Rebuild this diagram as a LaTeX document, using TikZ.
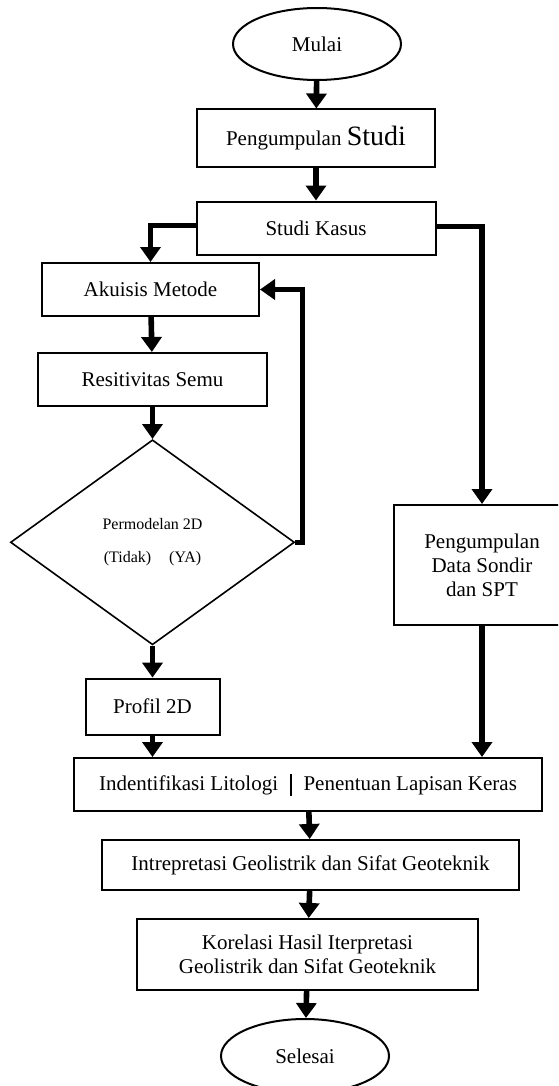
\documentclass[tikz,border=0pt]{standalone}
\usepackage{fontspec}
\setmainfont{Liberation Serif}
\usetikzlibrary{shapes.geometric,arrows.meta,positioning}
\tikzset{
  proses/.style = {rectangle, draw, line width=1pt, inner sep=0pt, align=center,
    font=\fontsize{10.5}{12}\selectfont},
  terminal/.style = {ellipse, draw, line width=1pt, inner sep=0pt, minimum width=84pt,
    minimum height=36pt, font=\fontsize{10.5}{12}\selectfont},
  keputusan/.style = {diamond, draw, line width=0.8pt, inner sep=0pt, align=center,
    minimum width=142pt, minimum height=102.5pt, font=\fontsize{8}{16.5}\selectfont},
  panah/.style = {line width=2.8pt, -{Triangle[width=10pt,length=7.5pt]}}
}

\begin{document}
\begin{tikzpicture}[x=0.5pt, y=-0.5pt]
\useasboundingbox (0,0) rectangle (558,1086);
\clip (0,0) rectangle (558,1086);

\node[terminal] (mulai) at (317,44) {Mulai};
\node[proses, below=13.75pt of mulai, minimum width=119pt, minimum height=28.5pt, xshift=-0.5pt]
  (kumpul) {Pengumpulan {\fontsize{14}{16}\selectfont Studi}};
\node[proses, below=16.5pt of kumpul, minimum width=119.5pt, minimum height=26.5pt] (kasus) {Studi Kasus};

% cabang kiri
\node[proses, minimum width=108.5pt, minimum height=26.5pt] (akuisis) at (150.5,289.5) {Akuisis Metode};
\node[proses, below=17.5pt of akuisis, minimum width=114.5pt, minimum height=26.5pt, xshift=1pt]
  (resit) {Resitivitas Semu};
\node[keputusan, below=16pt of resit] (model) {Permodelan 2D\\(Tidak)\hspace{9pt}(YA)};
\node[proses, below=16pt of model, minimum width=67pt, minimum height=28pt] (profil) {Profil 2D};

% cabang kanan
\node[proses, minimum width=88pt, minimum height=60pt] (data) at (482,565)
  {Pengumpulan\\Data Sondir\\dan SPT};

% bagian bawah
\node[proses, minimum width=234pt, minimum height=26.5pt] (ident) at (308,784.5)
  {Indentifikasi Litologi\hspace{6pt}\rule[-2.5pt]{0.7pt}{11pt}\hspace{6pt}Penentuan Lapisan Keras};
\node[proses, below=13.5pt of ident, minimum width=208.5pt, minimum height=25pt, xshift=1.25pt]
  (intrep) {Intrepretasi Geolistrik dan Sifat Geoteknik};
\node[proses, below=13.5pt of intrep, minimum width=170.5pt, minimum height=35.5pt, xshift=-1.5pt]
  (korelasi) {Korelasi Hasil Iterpretasi\\Geolistrik dan Sifat Geoteknik};
\node[terminal, below=13.5pt of korelasi, minimum height=37pt, xshift=-1.25pt] (selesai) {Selesai};

\draw[panah] (mulai) -- (kumpul);
\draw[panah] (kumpul) -- (kasus);
\draw[panah] ([yshift=1.25pt]kasus.west) -| (akuisis.north);
\draw[panah] ([yshift=0.75pt]kasus.east) -| (data.north);
\draw[panah] (akuisis) -- (resit);
\draw[panah] (resit) -- (model);
\draw[panah] (model.east) -- ++(7,0) |- (akuisis.east);
\draw[panah] (model) -- (profil);
\draw[panah] (profil) -- (profil |- ident.north);
\draw[panah] (data.south) -- (data.south |- ident.north);
\draw[panah] (ident) -- (intrep);
\draw[panah] (intrep) -- (korelasi);
\draw[panah] (korelasi) -- (selesai);

\end{tikzpicture}
\end{document}
